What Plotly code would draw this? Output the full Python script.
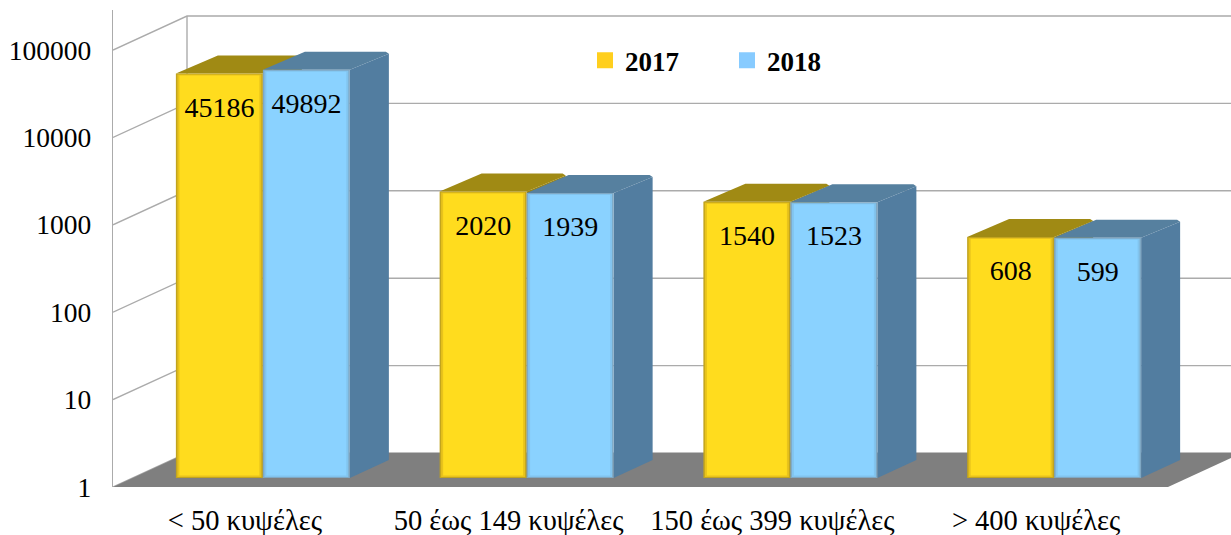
import plotly.graph_objects as go

# ----------------------------------- Data -----------------------------------

categories = ["< 50 κυψέλες", "50 έως 149 κυψέλες", "150 έως 399 κυψέλες", "> 400 κυψέλες"]
values_2017 = [45186, 2020, 1540, 608]
values_2018 = [49892, 1939, 1523, 599]
y_ticks = [1, 10, 100, 1000, 10000, 100000]

# ----------------------------------- Geometry -----------------------------------

FONT = "Liberation Serif"
PX_CAT = 263.75      # pixels per category
PX_DEC = 87.4        # pixels per decade
WALL_DX, WALL_DY = 74, 34
BAR_DX, BAR_DY = 39, 18
BAR_W = 87
GROUP_SHIFT = 18
BASE_LIFT = 9
TOP_LIFT = 6.6
FIG_W, MARGIN_L = 1231, 113


def px_x(cat, px=0):
    return cat + px / PX_CAT


def px_y(value, lift=0):
    return value * 10 ** (lift / PX_DEC)


def poly(fig, pts, color):
    # pts are (category position, x offset px, value, lift px)
    xs = [px_x(c, dx) for c, dx, v, l in pts] + [px_x(pts[0][0], pts[0][1])]
    ys = [px_y(v, l) for c, dx, v, l in pts] + [px_y(pts[0][2], pts[0][3])]
    fig.add_trace(go.Scatter(x=xs, y=ys, mode="lines", fill="toself", fillcolor=color,
                             line=dict(width=0, color=color), hoverinfo="skip", showlegend=False))


def rect(fig, cat, x0, x1, value, top_lift, bot_lift, color):
    poly(fig, [(cat, x0, 1, bot_lift), (cat, x1, 1, bot_lift), (cat, x1, value, top_lift), (cat, x0, value, top_lift)], color)


def draw_bar(fig, cat, left, value, front, edge, edge2, top, side):
    right = left + BAR_W
    # top face
    poly(fig, [(cat, left, value, TOP_LIFT), (cat, right, value, TOP_LIFT),
               (cat, right + BAR_DX, value, TOP_LIFT + BAR_DY - 2), (cat, right + BAR_DX - 3, value, TOP_LIFT + BAR_DY),
               (cat, left + BAR_DX + 3, value, TOP_LIFT + BAR_DY)], top)
    # side face
    poly(fig, [(cat, right, 1, BASE_LIFT), (cat, right + BAR_DX, 1, BASE_LIFT + BAR_DY),
               (cat, right + BAR_DX, value, TOP_LIFT + BAR_DY - 2), (cat, right, value, TOP_LIFT)], side)
    # front face with soft bevel
    rect(fig, cat, left, right, value, TOP_LIFT, BASE_LIFT, edge)
    rect(fig, cat, left + 1.5, right - 1.5, value, TOP_LIFT - 1, BASE_LIFT + 1, edge2)
    rect(fig, cat, left + 3.5, right - 3.5, value, TOP_LIFT - 2, BASE_LIFT + 2.5, front)


# ----------------------------------- Figure -----------------------------------

fig = go.Figure()

# walls: left-wall diagonals plus back-wall gridlines
for tick in y_ticks:
    fig.add_trace(go.Scatter(
        x=[px_x(-0.5), px_x(-0.5, WALL_DX), px_x(3.5, WALL_DX)],
        y=[px_y(tick), px_y(tick, WALL_DY), px_y(tick, WALL_DY)],
        mode="lines", line=dict(color="#ABABAB", width=1.4), hoverinfo="skip", showlegend=False))
fig.add_trace(go.Scatter(
    x=[px_x(-0.5, WALL_DX)] * 2, y=[px_y(y_ticks[0], WALL_DY), px_y(y_ticks[-1], WALL_DY)],
    mode="lines", line=dict(color="#ABABAB", width=1.4), hoverinfo="skip", showlegend=False))

# floor
poly(fig, [(-0.5, 0, 1, 0), (3.5, 0, 1, 0), (3.5, WALL_DX, 1, WALL_DY), (-0.5, WALL_DX, 1, WALL_DY)], "#7F7F7F")

# bars
for i in range(len(categories)):
    left_2017 = GROUP_SHIFT - BAR_W
    draw_bar(fig, i, left_2017, values_2017[i], "#FFDC1E", "#C2A41E", "#E8C31C", "#A08A14", "#9A8412")
    draw_bar(fig, i, GROUP_SHIFT, values_2018[i], "#8AD2FF", "#7FA8C4", "#82C4EE", "#56809F", "#527DA0")

# value labels
for vals, shift in ((values_2017, GROUP_SHIFT - BAR_W / 2), (values_2018, GROUP_SHIFT + BAR_W / 2)):
    fig.add_trace(go.Scatter(
        x=[px_x(i, shift) for i in range(len(categories))],
        y=[px_y(v, TOP_LIFT - 36) for v in vals],
        mode="text", text=[str(v) for v in vals], textposition="middle center",
        textfont=dict(family=FONT, size=28, color="black"), hoverinfo="skip", showlegend=False))

# legend entries
for name, color in (("2017", "#FFCF1E"), ("2018", "#87CBFF")):
    fig.add_trace(go.Scatter(x=[None], y=[None], mode="markers", name=name,
                             marker=dict(symbol="square", size=16, color=color)))

plot_w = FIG_W - MARGIN_L
fig.update_layout(
    width=FIG_W, height=535,
    margin=dict(l=MARGIN_L, r=0, t=10, b=48, pad=0),
    paper_bgcolor="white", plot_bgcolor="white",
    font=dict(family=FONT, color="black"),
    legend=dict(orientation="h", x=472 / plot_w, y=0.945, xanchor="left", yanchor="top",
                entrywidth=97, entrywidthmode="pixels", bgcolor="rgba(0,0,0,0)",
                font=dict(family=FONT, size=27, color="black", weight=700)),
)
fig.update_xaxes(range=[-0.5, -0.5 + plot_w / PX_CAT], tickvals=list(range(len(categories))), ticktext=categories,
                 tickfont=dict(family=FONT, size=28.5), ticks="", ticklabelstandoff=13, automargin=False,
                 showgrid=False, zeroline=False, showline=False)
fig.update_yaxes(type="log", range=[0, (487 - 10) / PX_DEC], tickvals=y_ticks, ticktext=[str(t) for t in y_ticks],
                 tickfont=dict(family=FONT, size=27.5), ticks="", ticklabelstandoff=15, automargin=False,
                 showgrid=False, zeroline=False, showline=True, linecolor="#ABABAB", linewidth=1.4)

# drop the page's default body margin so the figure sits at the window's corner
fig.write_html("out.html", config={"displayModeBar": False}, post_script="document.body.style.margin = '0';")
